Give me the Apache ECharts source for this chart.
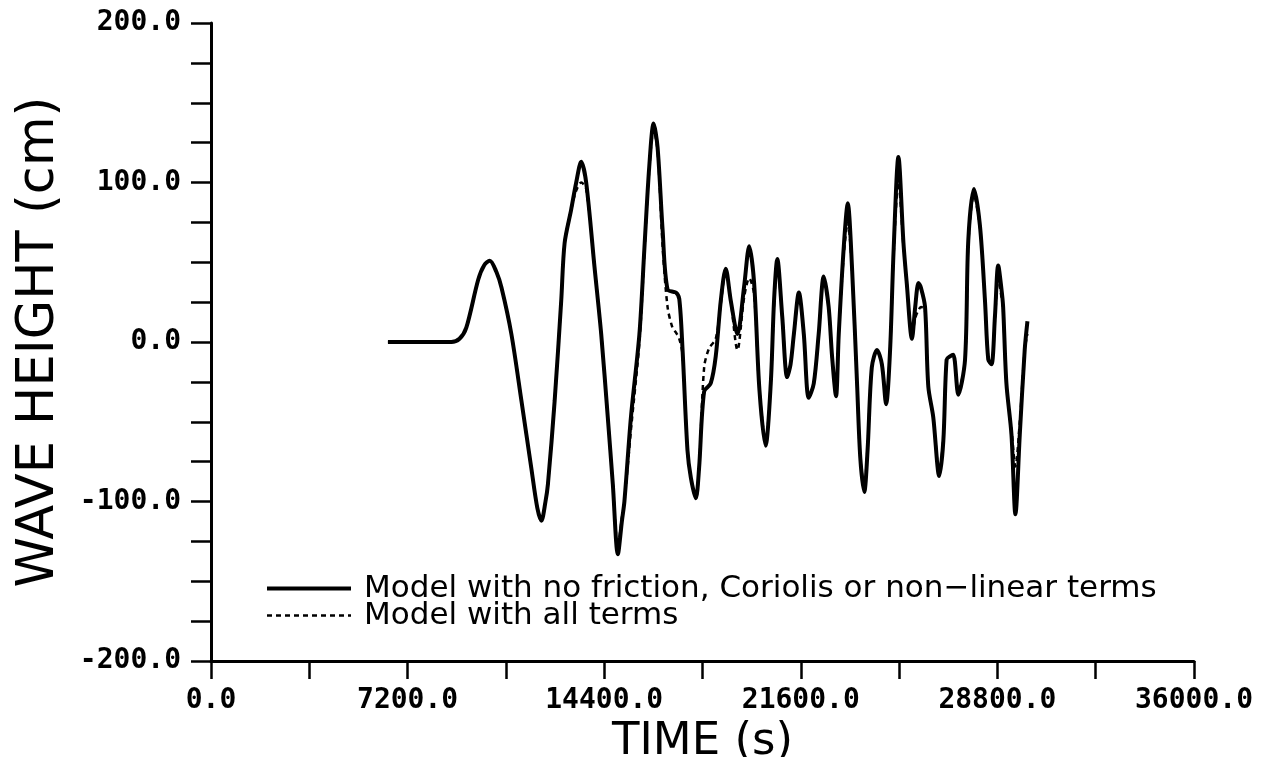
<!DOCTYPE html>
<html>
<head>
<meta charset="utf-8">
<title>Wave height</title>
<script src="https://cdn.jsdelivr.net/npm/echarts@6/dist/echarts.min.js"></script>
<style>
  html, body { margin: 0; padding: 0; background: #fff; }
  #chart { width: 1274px; height: 757px; }
</style>
</head>
<body>
<div id="chart"></div>
<script>
// time (s) and wave height (cm)
const solidTime = [
  6480, 8800, 9100, 9350, 9785, 10000, 10210, 10450, 10640, 11000, 11370, 11730, 11950, 12100,
  12250, 12340, 12585, 12826, 12950, 13190, 13375, 13557, 13740, 14045, 14290, 14530, 14715,
  14900, 15050, 15140, 15380, 15690, 15870, 16050, 16210, 16355, 16540, 16720, 17025, 17150,
  17270, 17450, 17573, 17755, 17875, 18060, 18300, 18485, 18670, 18850, 19035, 19280, 19525,
  19710, 19890, 20085, 20310, 20500, 20620, 20740, 20920, 21100, 21225, 21347, 21530, 21710,
  21890, 22075, 22255, 22440, 22620, 22745, 22890, 22990, 23175, 23320, 23475, 23660, 23780,
  23925, 24045, 24200, 24390, 24570, 24725, 24870, 25000, 25175, 25360, 25480, 25670, 25790,
  25910, 26000, 26150, 26270, 26450, 26670, 26820, 26940, 27065, 27185, 27370, 27615, 27735,
  27940, 28160, 28345, 28465, 28585, 28710, 28830, 28950, 29010, 29130, 29315, 29460, 29620,
  29800, 29900
]
const solidHeight = [
  0, 0, 2, 9, 39, 48, 51, 44, 34, 5, -37, -79, -104, -112,
  -100, -89, -37, 26, 62, 83, 100, 113, 100, 47, 5, -47, -89,
  -133, -112, -100, -47, 5, 58, 110, 137, 122, 70, 33, 31, 27,
  -5, -68, -85, -98, -79, -31, -26, -9, 26, 46, 26, 5, 35,
  60, 37, -30, -65, -26, 26, 52, 16, -22, -14, 5, 31, 5,
  -35, -26, 5, 41, 22, -9, -34, 5, 60, 87, 47, -26, -73,
  -94, -68, -16, -5, -14, -39, -5, 58, 116, 62, 37, 2, 22,
  37, 34, 22, -28, -47, -84, -62, -11, -9, -8, -33, -11, 64,
  96, 73, 26, -11, -14, 16, 48, 33, 22, -26, -58, -108, -58,
  -5, 13
]

const dashedTime = [
  6480, 8800, 9100, 9350, 9785, 10000, 10210, 10450, 10640, 11000, 11370, 11730, 11950, 12100,
  12250, 12340, 12585, 12826, 12950, 13190, 13375, 13557, 13740, 14045, 14290, 14530, 14715,
  14900, 15050, 15140, 15380, 15690, 15870, 16050, 16210, 16355, 16540, 16720, 16900, 17025,
  17150, 17270, 17450, 17573, 17755, 17875, 18060, 18240, 18485, 18670, 18850, 19035, 19280,
  19525, 19710, 19890, 20085, 20310, 20500, 20620, 20740, 20920, 21100, 21225, 21347, 21530,
  21710, 21890, 22075, 22255, 22440, 22620, 22745, 22890, 22990, 23175, 23320, 23475, 23660,
  23780, 23925, 24045, 24200, 24390, 24570, 24725, 24870, 25000, 25175, 25360, 25480, 25670,
  25790, 25910, 26000, 26150, 26270, 26450, 26670, 26820, 26940, 27065, 27185, 27370, 27615,
  27735, 27940, 28160, 28345, 28465, 28585, 28710, 28830, 28950, 29010, 29130, 29315, 29460,
  29620, 29800, 29900
]
const dashedHeight = [
  0, 0, 2, 9, 39, 48, 51, 44, 34, 5, -37, -79, -104, -112,
  -100, -89, -37, 26, 62, 83, 95, 100, 96, 47, 5, -47, -89,
  -128, -110, -100, -55, 0, 55, 108, 133, 120, 60, 22, 9, 6,
  2, -8, -68, -85, -98, -79, -16, -4, 2, 24, 45, 26, -5,
  28, 40, 30, -30, -62, -26, 24, 48, 16, -22, -14, 5, 30,
  5, -35, -26, 5, 40, 22, -9, -34, 5, 55, 75, 45, -26,
  -73, -90, -66, -16, -5, -14, -37, -5, 55, 100, 60, 37, 4,
  15, 20, 22, 20, -28, -47, -82, -60, -11, -9, -8, -31, -11,
  62, 92, 72, 26, -10, -14, 14, 40, 28, 20, -26, -55, -78,
  -50, -5, 5
]

const legendNames = [
  'Model with no friction, Coriolis or non\u2212linear terms',
  'Model with all terms'
]

const xTicks = [0, 7200, 14400, 21600, 28800, 36000]
const yTicks = [-200, -100, 0, 100, 200]

function pairs(xs, ys) {
  return xs.map((x, i) => [x, ys[i]])
}

const chart = echarts.init(document.getElementById('chart'))

const tickFont = {
  color: '#000',
  fontFamily: 'DejaVu Sans Mono',
  fontWeight: 'bold',
  fontSize: 28
}

chart.setOption({
  backgroundColor: '#fff',
  animation: false,
  grid: { left: 211, right: 80, top: 23, bottom: 96, outerBoundsMode: 'none', containLabel: false },
  legend: {
    orient: 'vertical',
    left: 260,
    top: 568,
    itemWidth: 84,
    itemHeight: 14,
    itemGap: -4,
    itemStyle: { opacity: 0 },
    data: [
      { name: legendNames[0], lineStyle: { color: '#000', width: 4 } },
      { name: legendNames[1], lineStyle: { color: '#000', width: 2.5, type: [5, 4] } }
    ],
    textStyle: {
      color: '#000',
      fontFamily: 'DejaVu Sans',
      fontSize: 31,
      lineHeight: 27,
      padding: [0, 0, 0, 8]
    }
  },
  xAxis: {
    type: 'value',
    min: 0,
    max: 36000,
    interval: 3600,
    name: 'TIME (s)',
    nameLocation: 'middle',
    nameGap: 48,
    nameTextStyle: { color: '#000', fontFamily: 'DejaVu Sans', fontSize: 45 },
    splitLine: { show: false },
    axisLine: { onZero: false, lineStyle: { color: '#000', width: 3 } },
    axisTick: { length: 18, lineStyle: { color: '#000', width: 2.5 } },
    axisLabel: Object.assign({
      margin: 26,
      formatter: v => xTicks.includes(v) ? v.toFixed(1) : ''
    }, tickFont)
  },
  yAxis: {
    type: 'value',
    min: -200,
    max: 200,
    interval: 25,
    name: 'WAVE HEIGHT (cm)',
    nameLocation: 'middle',
    nameGap: 146,
    nameTextStyle: { color: '#000', fontFamily: 'DejaVu Sans', fontSize: 51 },
    splitLine: { show: false },
    axisLine: { onZero: false, lineStyle: { color: '#000', width: 3 } },
    axisTick: { length: 20, lineStyle: { color: '#000', width: 2.5 } },
    axisLabel: Object.assign({
      margin: 30,
      formatter: v => yTicks.includes(v) ? v.toFixed(1) : ''
    }, tickFont)
  },
  series: [
    {
      name: legendNames[1],
      type: 'line',
      data: pairs(dashedTime, dashedHeight),
      showSymbol: false,
      symbol: 'none',
      smooth: 0.3,
      lineStyle: { color: '#000', width: 2.5, type: [5, 4] },
      itemStyle: { color: '#000' }
    },
    {
      name: legendNames[0],
      type: 'line',
      data: pairs(solidTime, solidHeight),
      showSymbol: false,
      symbol: 'none',
      smooth: 0.3,
      lineStyle: { color: '#000', width: 4 },
      itemStyle: { color: '#000' }
    }
  ]
})
</script>
</body>
</html>
